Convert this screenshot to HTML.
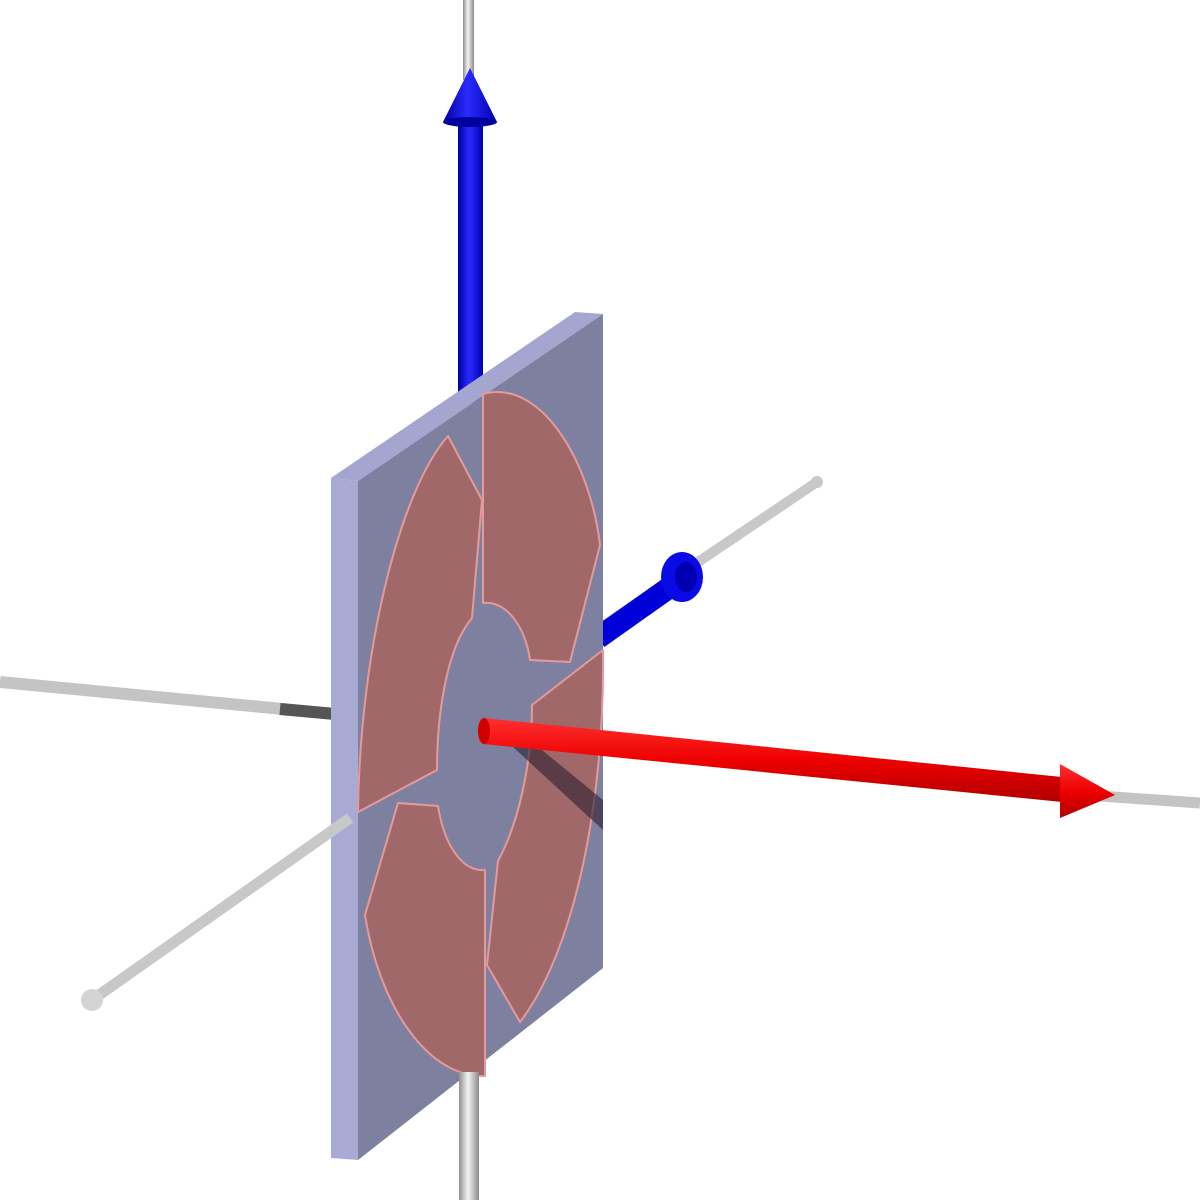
<!DOCTYPE html>
<html><head><meta charset="utf-8"><style>html,body{margin:0;padding:0;background:#fff}svg{display:block}</style></head>
<body>
<svg width="1200" height="1200" viewBox="0 0 1200 1200" xmlns="http://www.w3.org/2000/svg">
<defs>
<linearGradient id="gv" x1="0" x2="1" y1="0" y2="0"><stop offset="0" stop-color="#909090"/><stop offset="0.45" stop-color="#f4f4f4"/><stop offset="1" stop-color="#8a8a8a"/></linearGradient>
<linearGradient id="bv" x1="0" x2="1" y1="0" y2="0"><stop offset="0" stop-color="#0000a0"/><stop offset="0.45" stop-color="#2a2aff"/><stop offset="1" stop-color="#0000b0"/></linearGradient>
<linearGradient id="rr" x1="0" x2="0" y1="0" y2="1"><stop offset="0" stop-color="#ff3030"/><stop offset="0.5" stop-color="#ee0000"/><stop offset="1" stop-color="#b00000"/></linearGradient>
</defs>

<rect x="463" y="0" width="11" height="80" fill="url(#gv)"/>
<line x1="0" y1="682" x2="335" y2="714" stroke="#c4c4c4" stroke-width="12"/>
<line x1="280" y1="709" x2="335" y2="714" stroke="#555" stroke-width="12"/>
<line x1="600" y1="628" x2="817" y2="482" stroke="#c8c8c8" stroke-width="10"/>
<circle cx="817" cy="482" r="6" fill="#c8c8c8"/>
<line x1="598" y1="638" x2="680" y2="580" stroke="#0000d8" stroke-width="22"/>
<ellipse cx="682" cy="577" rx="21" ry="25" fill="#0a0ae6"/>
<ellipse cx="686" cy="577" rx="11" ry="15" fill="#0000b0"/>

<rect x="458" y="118" width="25" height="285" fill="url(#bv)"/>
<polygon points="470,68 443,122 497,122" fill="url(#bv)"/>
<ellipse cx="470" cy="122" rx="27" ry="5" fill="#0000a0"/>

<polygon points="331,478 575,312 603,314 358,481" fill="#a4a6d0"/>
<polygon points="331,478 358,481 358,1160 331,1158" fill="#a8aad4"/>
<polygon points="358,481 603,314 603,968 358,1160" fill="#7e80a0"/>

<g fill="#a06868" stroke="#e49a9a" stroke-width="2" stroke-linejoin="round">
<path d="M483,394 C540,378 590,460 600,545 L570,662 L530,660 C525,625 505,600 483,603 Z"/>
<path d="M448,436 L482,500 L472,618 C445,650 437,720 437,770 L358,812 C360,650 400,490 448,436 Z"/>
<path d="M398,803 L438,806 C445,850 465,872 485,870 L485,1076 C430,1078 380,1010 365,915 Z"/>
<path d="M498,861 C520,820 532,760 532,705 L603,650 C605,800 575,950 520,1022 L487,965 Z"/>
</g>
<polygon points="500,735 520,732 603,800 603,830" fill="#2a2030" opacity="0.6"/>

<line x1="350" y1="818" x2="92" y2="1000" stroke="#c8c8c8" stroke-width="11"/>
<circle cx="92" cy="1000" r="11" fill="#d4d4d4"/>
<rect x="459" y="1072" width="20" height="128" fill="url(#gv)"/>
<line x1="1100" y1="796" x2="1200" y2="803" stroke="#c4c4c4" stroke-width="11"/>

<polygon points="483,718 1062,777 1062,802 483,744" fill="url(#rr)"/>
<ellipse cx="484" cy="731" rx="6" ry="13" fill="#d00000"/>
<polygon points="1060,764 1115,795 1060,818" fill="url(#rr)"/>
</svg>
</body></html>
